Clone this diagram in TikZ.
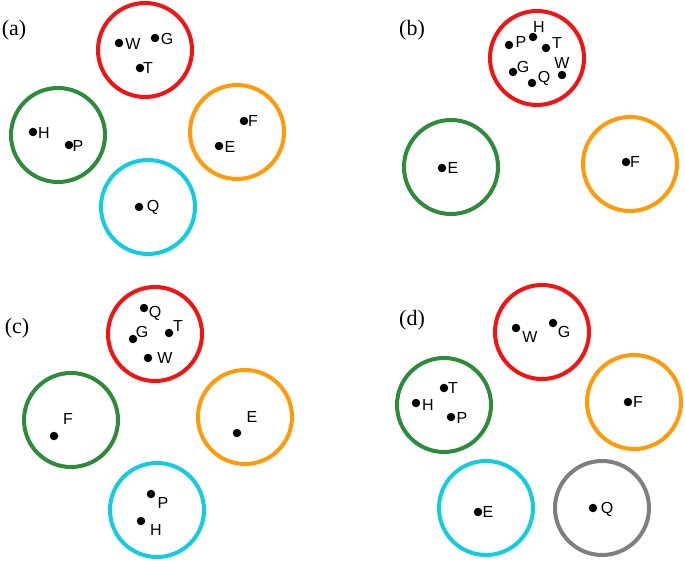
\documentclass[tikz,border=0pt]{standalone}
\usepackage{fontspec}
\setmainfont{Liberation Serif}
\setsansfont{Liberation Sans}
\usetikzlibrary{positioning}
\definecolor{cRed}   {HTML}{F01414}
\definecolor{cGreen} {HTML}{2E8B3C}
\definecolor{cOrange}{HTML}{FF9A0A}
\definecolor{cCyan}  {HTML}{14CCE0}
\definecolor{cGray}  {HTML}{7F7F7F}
\tikzset{
  group/.style={circle, draw=#1, line width=4pt, minimum size=94pt, inner sep=0pt},
  dot/.style={circle, fill=black, minimum size=8.5pt, inner sep=0pt},
  lbl/.style={font=\sffamily\fontsize{16}{16}\selectfont, inner sep=0pt},
  tag/.style={font=\fontsize{22}{22}\selectfont, inner sep=0pt},
}
\begin{document}
\begin{tikzpicture}[x=1pt, y=-1pt]
  \useasboundingbox (0,0) rectangle (685,561);
  % panel tags
  \node[tag] (taga) at (14,30)  {(a)};
  \node[tag] (tagb) at (412,30) {(b)};
  \node[tag] (tagc) at (17,328) {(c)};
  \node[tag] (tagd) at (412,320) {(d)};
  % groups
  \foreach \n/\x/\y/\c in {aR/145/50/cRed, aG/58/135/cGreen, aO/237/132/cOrange, aC/148/207/cCyan,
                           bR/537/58/cRed, bG/451/167/cGreen, bO/630/164/cOrange,
                           cR/155/334/cRed, cG/71/420/cGreen, cO/245/417/cOrange, cC/157/510/cCyan,
                           dR/542/332/cRed, dG/444/405/cGreen, dO/634/402/cOrange, dC/486/508/cCyan, dY/602/508/cGray}{
    \node[group=\c] (\n) at (\x,\y) {};
  }
  % members: name / dot / label
  \foreach \n/\x/\y/\lx/\ly/\t in {
      aW/119/43/133/44/W, aG/155/38/167/39/G, aT/140/68/148/68/T,
      aH/33/132/44/133/H, aP/69/145/78/146/P,
      aF/244/121/253/121/F, aE/219/146/230/147/E, aQ/139/207/153/207/Q,
      bP/509/45/521/42/P, bH/533/37/539/27/H, bT/546/48/557/43/T,
      bG/513/72/523/67/G, bQ/532/83/544/78/Q, bW/562/75/562/63/W,
      bE/442/168/453/168/E, bF/626/162/635/162/F,
      cQ/144/308/155/313/Q, cG/133/339/142/332/G, cT/169/333/178/326/T, cW/148/358/165/358/W,
      cF/54/436/68/419/F, cE/237/433/252/417/E, cP/151/494/163/503/P, cH/141/521/156/530/H,
      dW/516/328/530/337/W, dG/553/323/564/332/G,
      dT/444/388/453/388/T, dH/416/403/428/405/H, dP/451/417/462/418/P,
      dF/628/402/638/402/F, dE/478/512/488/512/E, dQ/593/508/607/509/Q}{
    \node[dot] (p\n) at (\x,\y) {};
    \node[lbl] (l\n) at (\lx,\ly) {\t};
  }
\end{tikzpicture}
\end{document}
